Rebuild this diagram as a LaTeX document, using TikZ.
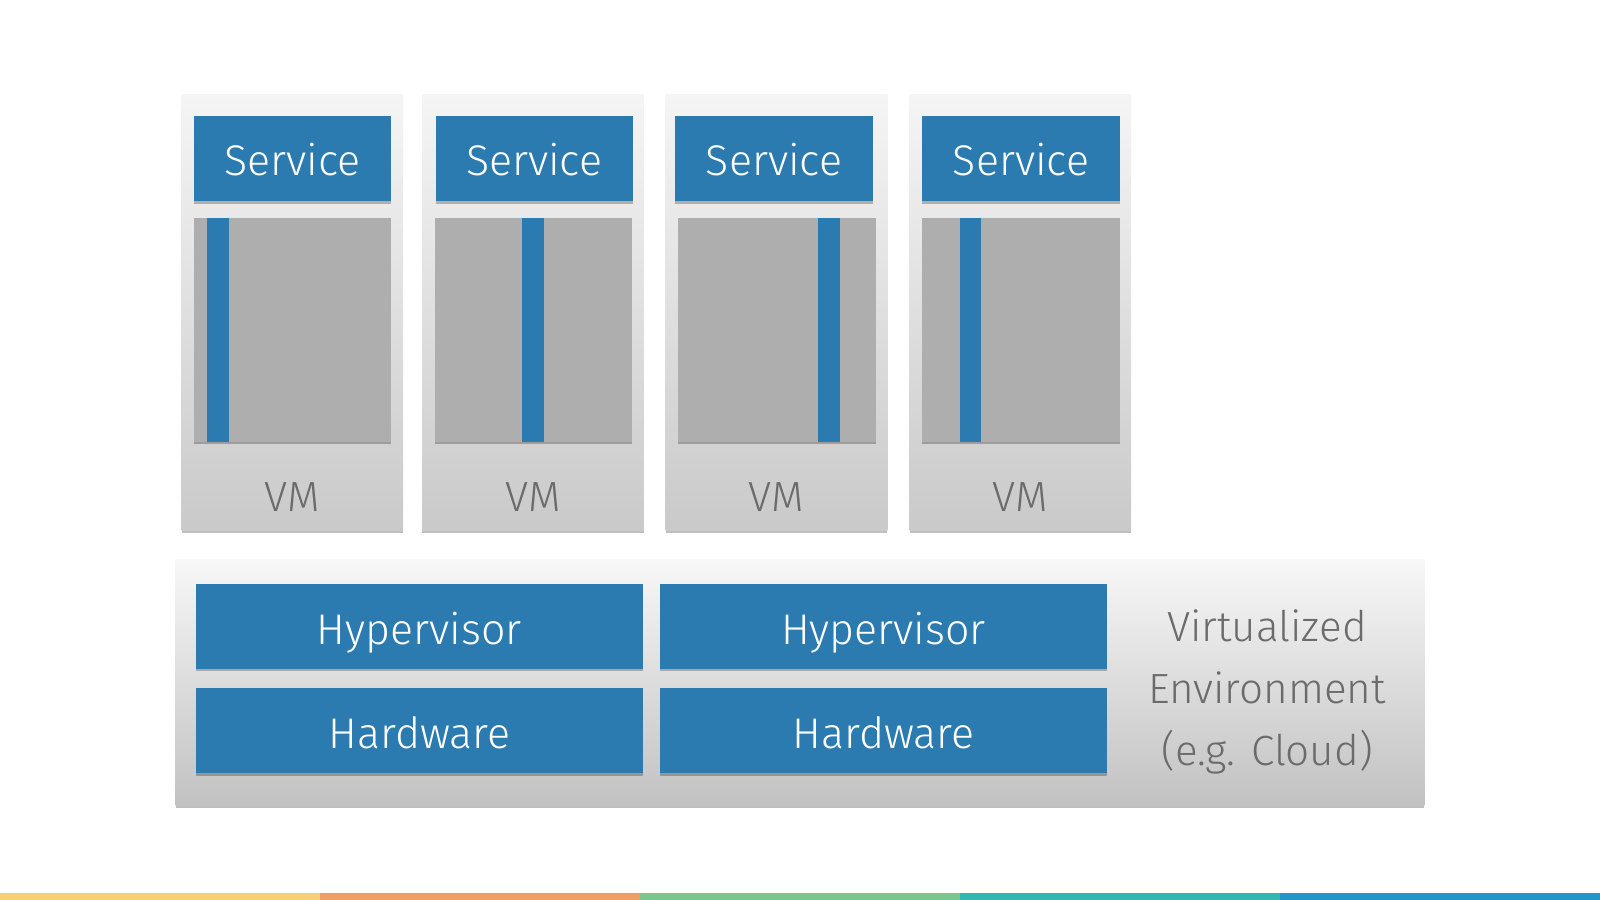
\documentclass[tikz,border=0pt]{standalone}
\usepackage{fontspec}
\setmainfont{Fira Sans}[UprightFont=* Light]
\usetikzlibrary{positioning, shadows}
\definecolor{xblue}{HTML}{2C7BB0}
\definecolor{xgray}{HTML}{AEAEAE}
\definecolor{xtext}{HTML}{6B6B6B}
\definecolor{xyellow}{HTML}{F6CF76}
\definecolor{xorange}{HTML}{EF9E66}
\definecolor{xgreen}{HTML}{7AC68E}
\definecolor{xteal}{HTML}{34B6B3}
\definecolor{xsky}{HTML}{2395C9}
\tikzset{
	softshadow/.style={drop shadow={shadow xshift=0pt, shadow yshift=-0.7pt, opacity=0.25, fill=black}},
	vmbox/.style={softshadow, top color=black!4, bottom color=black!21, minimum width=2.214cm, minimum height=4.35cm, inner sep=0pt},
	hostbox/.style={softshadow, top color=black!3, bottom color=black!24, minimum width=12.48cm, minimum height=2.45cm, inner sep=0pt},
	bluebox/.style={softshadow, fill=xblue, text=white, inner sep=0pt, text height=12pt, text depth=2pt, font=\fontsize{12.2}{15}\selectfont},
	service/.style={bluebox, minimum width=1.97cm, minimum height=0.853cm},
	layer/.style={bluebox, minimum width=4.467cm, minimum height=0.85cm},
	appbox/.style={softshadow, fill=xgray, minimum width=1.97cm, minimum height=2.24cm, inner sep=0pt},
	stripe/.style={fill=xblue, minimum width=0.215cm, minimum height=2.24cm, inner sep=0pt},
	label/.style={text=xtext, font=\fontsize{12}{17.6}\selectfont, align=center},
}

\begin{document}
\begin{tikzpicture}[x=0.01cm, y=-0.01cm]
		\useasboundingbox (0,0) rectangle (1600,900);
		\fill[white] (0,0) rectangle (1600,900);

		% VM 1
		\node[vmbox] (VM1) at (292.3,312.5) {};
		\node[service] (S1) at (292.5,158.4) {Service};
		\node[appbox] (G1) at (292.5,329.7) {};
		\node[stripe] (P1) at (218,329.7) {};
		\node[label] (L1) at (292.3,497) {VM};

		% VM 2
		\node[vmbox] (VM2) at (533.2,312.5) {};
		\node[service] (S2) at (534.2,158.4) {Service};
		\node[appbox] (G2) at (533.2,329.7) {};
		\node[stripe] (P2) at (533.2,329.7) {};
		\node[label] (L2) at (533.2,497) {VM};

		% VM 3
		\node[vmbox] (VM3) at (776.5,312.5) {};
		\node[service] (S3) at (774,158.4) {Service};
		\node[appbox] (G3) at (777,329.7) {};
		\node[stripe] (P3) at (829,329.7) {};
		\node[label] (L3) at (776.5,497) {VM};

		% VM 4
		\node[vmbox] (VM4) at (1020.3,312.5) {};
		\node[service] (S4) at (1021,158.4) {Service};
		\node[appbox] (G4) at (1021,329.7) {};
		\node[stripe] (P4) at (970.3,329.7) {};
		\node[label] (L4) at (1020.3,497) {VM};

		% Hosts
		\node[hostbox] (H) at (800,682.5) {};
		\node[layer] (HV1) at (419.4,626.5) {Hypervisor};
		\node[layer, below=0.177cm of HV1] (HW1) {Hardware};
		\node[layer] (HV2) at (883.5,626.5) {Hypervisor};
		\node[layer, below=0.177cm of HV2] (HW2) {Hardware};
		\node[label] (E) at (1267,692) {Virtualized\\Environment\\(e.g. Cloud)};

		% colour bar
		\fill[xyellow] (0,893) rectangle (320,900);
		\fill[xorange] (320,893) rectangle (640,900);
		\fill[xgreen] (640,893) rectangle (960,900);
		\fill[xteal] (960,893) rectangle (1280,900);
		\fill[xsky] (1280,893) rectangle (1600,900);
	\end{tikzpicture}
\end{document}
